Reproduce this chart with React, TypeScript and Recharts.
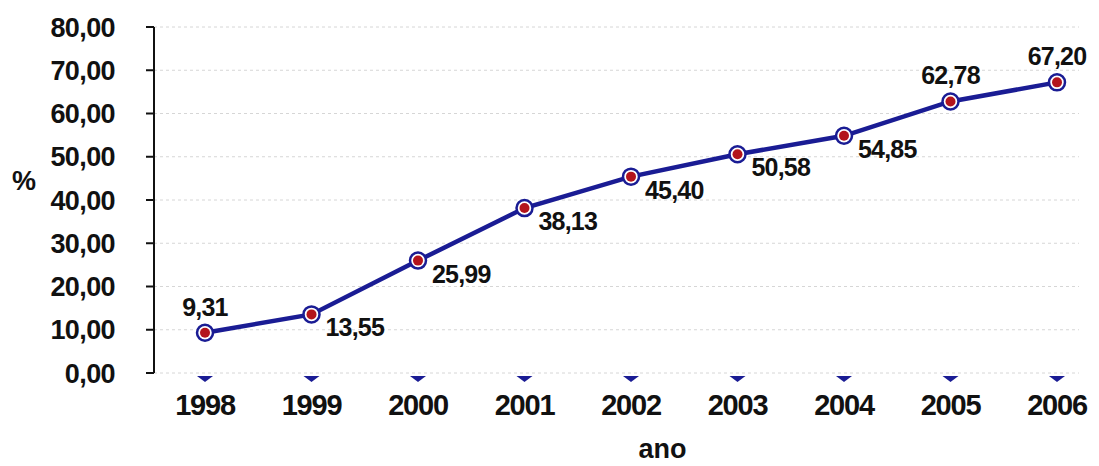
import React from 'react'
import { LineChart, Line, XAxis, YAxis, CartesianGrid, LabelList, Label } from 'recharts'

const years = ['1998', '1999', '2000', '2001', '2002', '2003', '2004', '2005', '2006']
const percent = [9.31, 13.55, 25.99, 38.13, 45.4, 50.58, 54.85, 62.78, 67.2]
const yTicks = [0, 10, 20, 30, 40, 50, 60, 70, 80]

const data = years.map((ano, i) => ({ ano, valor: percent[i] }))

const FONT = '"Liberation Sans", Arial, sans-serif'
const NAVY = '#1a1c94'
const RED = '#b3141c'
// labels drawn above the point instead of to the lower right
const LABEL_ABOVE = new Set([0, 7, 8])

const fmt = (v: number) => v.toFixed(2).replace('.', ',')

const Dot = (props: any) => {
  const { cx, cy } = props
  if (cx == null || cy == null) return null
  return (
    <g>
      <circle cx={cx} cy={cy} r={8} fill="#fff" stroke={NAVY} strokeWidth={2.5} />
      <circle cx={cx} cy={cy} r={5} fill={RED} />
    </g>
  )
}

const ValueLabel = (props: any) => {
  const { x, y, value, index } = props
  const above = LABEL_ABOVE.has(index)
  return (
    <text
      x={above ? x : x + 14}
      y={above ? y - 17 : y + 22}
      textAnchor={above ? 'middle' : 'start'}
      fontFamily={FONT}
      fontWeight="bold"
      fontSize={25}
      letterSpacing={-0.8}
      fill="#111"
    >
      {fmt(value)}
    </text>
  )
}

const YearTick = (props: any) => {
  const { x, y, payload } = props
  return (
    <g>
      <path d={`M${x - 8},${y + 3} L${x + 8},${y + 3} L${x},${y + 9} Z`} fill={NAVY} />
      <text
        x={x}
        y={y + 42}
        textAnchor="middle"
        fontFamily={FONT}
        fontWeight="bold"
        fontSize={29}
        letterSpacing={-1.2}
        fill="#111"
      >
        {payload.value}
      </text>
    </g>
  )
}

export default function App() {
  return (
    <div style={{ position: 'absolute', left: 0, top: 0, width: 1099, height: 466, background: '#fff' }}>
      <LineChart width={1099} height={466} data={data} margin={{ top: 27, right: 20, bottom: 0, left: 0 }}>
        <CartesianGrid vertical={false} stroke="#d6d6d6" strokeDasharray="3 3" />
        <XAxis
          dataKey="ano"
          axisLine={false}
          tickLine={false}
          tickSize={0}
          tickMargin={0}
          height={93}
          padding={{ left: 51, right: 22 }}
          tick={<YearTick />}
          interval={0}
        >
          <Label
            value="ano"
            position="insideBottom"
            dx={46}
            offset={8}
            fontFamily={FONT}
            fontWeight="bold"
            fontSize={27}
            fill="#111"
          />
        </XAxis>
        <YAxis
          width={154}
          domain={[0, 80]}
          ticks={yTicks}
          interval={0}
          axisLine={{ stroke: '#111', strokeWidth: 2 }}
          tickLine={{ stroke: '#111', strokeWidth: 2 }}
          tickSize={8}
          tickMargin={31}
          tickFormatter={fmt}
          tick={{ fontFamily: FONT, fontWeight: 'bold', fontSize: 27, fill: '#111', letterSpacing: -0.6 }}
        >
          <Label
            value="%"
            position="insideLeft"
            offset={12}
            dy={-20}
            fontFamily={FONT}
            fontWeight="bold"
            fontSize={27}
            fill="#111"
          />
        </YAxis>
        <Line
          type="linear"
          dataKey="valor"
          stroke={NAVY}
          strokeWidth={4.5}
          dot={<Dot />}
          activeDot={false}
          isAnimationActive={false}
        >
          <LabelList dataKey="valor" content={<ValueLabel />} />
        </Line>
      </LineChart>
    </div>
  )
}
